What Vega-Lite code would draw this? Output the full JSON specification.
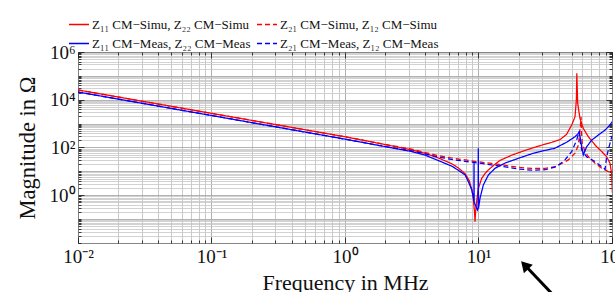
{
  "$schema": "https://vega.github.io/schema/vega-lite/v6.json",
  "width": 534,
  "height": 191,
  "autosize": {"type": "none"},
  "padding": {"left": 78, "top": 52, "right": 3, "bottom": 49},
  "background": "white",
  "config": {"view": {"stroke": "#222", "strokeWidth": 1}, "font": "Liberation Serif"},
  "datasets": {
    "curves": [
      {"s": "Z₁₁ CM−Simu, Z₂₂ CM−Simu", "f": 0.01, "z": 25700},
      {"s": "Z₁₁ CM−Simu, Z₂₂ CM−Simu", "f": 0.1, "z": 2690},
      {"s": "Z₁₁ CM−Simu, Z₂₂ CM−Simu", "f": 1, "z": 282},
      {"s": "Z₁₁ CM−Simu, Z₂₂ CM−Simu", "f": 1.778, "z": 151},
      {"s": "Z₁₁ CM−Simu, Z₂₂ CM−Simu", "f": 3.162, "z": 79.4},
      {"s": "Z₁₁ CM−Simu, Z₂₂ CM−Simu", "f": 3.981, "z": 57.5},
      {"s": "Z₁₁ CM−Simu, Z₂₂ CM−Simu", "f": 5.012, "z": 36.3},
      {"s": "Z₁₁ CM−Simu, Z₂₂ CM−Simu", "f": 6.31, "z": 20.9},
      {"s": "Z₁₁ CM−Simu, Z₂₂ CM−Simu", "f": 7.079, "z": 13.8},
      {"s": "Z₁₁ CM−Simu, Z₂₂ CM−Simu", "f": 7.943, "z": 7.94},
      {"s": "Z₁₁ CM−Simu, Z₂₂ CM−Simu", "f": 8.511, "z": 4.17},
      {"s": "Z₁₁ CM−Simu, Z₂₂ CM−Simu", "f": 8.913, "z": 1.78},
      {"s": "Z₁₁ CM−Simu, Z₂₂ CM−Simu", "f": 9.162, "z": 0.631},
      {"s": "Z₁₁ CM−Simu, Z₂₂ CM−Simu", "f": 9.333, "z": 0.2},
      {"s": "Z₁₁ CM−Simu, Z₂₂ CM−Simu", "f": 9.419, "z": 0.0776},
      {"s": "Z₁₁ CM−Simu, Z₂₂ CM−Simu", "f": 9.506, "z": 0.2},
      {"s": "Z₁₁ CM−Simu, Z₂₂ CM−Simu", "f": 9.683, "z": 0.537},
      {"s": "Z₁₁ CM−Simu, Z₂₂ CM−Simu", "f": 9.977, "z": 1.95},
      {"s": "Z₁₁ CM−Simu, Z₂₂ CM−Simu", "f": 10.57, "z": 5.13},
      {"s": "Z₁₁ CM−Simu, Z₂₂ CM−Simu", "f": 11.22, "z": 8.32},
      {"s": "Z₁₁ CM−Simu, Z₂₂ CM−Simu", "f": 11.86, "z": 11.5},
      {"s": "Z₁₁ CM−Simu, Z₂₂ CM−Simu", "f": 13.3, "z": 20.0},
      {"s": "Z₁₁ CM−Simu, Z₂₂ CM−Simu", "f": 14.49, "z": 28.8},
      {"s": "Z₁₁ CM−Simu, Z₂₂ CM−Simu", "f": 17.78, "z": 47.9},
      {"s": "Z₁₁ CM−Simu, Z₂₂ CM−Simu", "f": 22.39, "z": 75.9},
      {"s": "Z₁₁ CM−Simu, Z₂₂ CM−Simu", "f": 28.18, "z": 115},
      {"s": "Z₁₁ CM−Simu, Z₂₂ CM−Simu", "f": 35.48, "z": 166},
      {"s": "Z₁₁ CM−Simu, Z₂₂ CM−Simu", "f": 40.74, "z": 214},
      {"s": "Z₁₁ CM−Simu, Z₂₂ CM−Simu", "f": 45.71, "z": 355},
      {"s": "Z₁₁ CM−Simu, Z₂₂ CM−Simu", "f": 49.89, "z": 871},
      {"s": "Z₁₁ CM−Simu, Z₂₂ CM−Simu", "f": 52.84, "z": 1950},
      {"s": "Z₁₁ CM−Simu, Z₂₂ CM−Simu", "f": 54.08, "z": 9770},
      {"s": "Z₁₁ CM−Simu, Z₂₂ CM−Simu", "f": 54.51, "z": 129000},
      {"s": "Z₁₁ CM−Simu, Z₂₂ CM−Simu", "f": 55.34, "z": 7080},
      {"s": "Z₁₁ CM−Simu, Z₂₂ CM−Simu", "f": 57.54, "z": 1660},
      {"s": "Z₁₁ CM−Simu, Z₂₂ CM−Simu", "f": 60.95, "z": 631},
      {"s": "Z₁₁ CM−Simu, Z₂₂ CM−Simu", "f": 66.53, "z": 282},
      {"s": "Z₁₁ CM−Simu, Z₂₂ CM−Simu", "f": 74.65, "z": 127},
      {"s": "Z₁₁ CM−Simu, Z₂₂ CM−Simu", "f": 83.75, "z": 67.6},
      {"s": "Z₁₁ CM−Simu, Z₂₂ CM−Simu", "f": 91.2, "z": 40.7},
      {"s": "Z₁₁ CM−Simu, Z₂₂ CM−Simu", "f": 96.61, "z": 21.9},
      {"s": "Z₁₁ CM−Simu, Z₂₂ CM−Simu", "f": 99.31, "z": 8.32},
      {"s": "Z₁₁ CM−Simu, Z₂₂ CM−Simu", "f": 100.7, "z": 1.26},

      {"s": "Z₂₁ CM−Simu, Z₁₂ CM−Simu", "f": 0.01, "z": 25700},
      {"s": "Z₂₁ CM−Simu, Z₁₂ CM−Simu", "f": 0.1, "z": 2690},
      {"s": "Z₂₁ CM−Simu, Z₁₂ CM−Simu", "f": 1, "z": 282},
      {"s": "Z₂₁ CM−Simu, Z₁₂ CM−Simu", "f": 1.778, "z": 151},
      {"s": "Z₂₁ CM−Simu, Z₁₂ CM−Simu", "f": 2.512, "z": 107},
      {"s": "Z₂₁ CM−Simu, Z₁₂ CM−Simu", "f": 3.162, "z": 85.1},
      {"s": "Z₂₁ CM−Simu, Z₁₂ CM−Simu", "f": 3.981, "z": 61.7},
      {"s": "Z₂₁ CM−Simu, Z₁₂ CM−Simu", "f": 5.012, "z": 45.7},
      {"s": "Z₂₁ CM−Simu, Z₁₂ CM−Simu", "f": 6.31, "z": 36.3},
      {"s": "Z₂₁ CM−Simu, Z₁₂ CM−Simu", "f": 7.943, "z": 30.2},
      {"s": "Z₂₁ CM−Simu, Z₁₂ CM−Simu", "f": 10, "z": 25.1},
      {"s": "Z₂₁ CM−Simu, Z₁₂ CM−Simu", "f": 12.59, "z": 21.4},
      {"s": "Z₂₁ CM−Simu, Z₁₂ CM−Simu", "f": 15.85, "z": 17.8},
      {"s": "Z₂₁ CM−Simu, Z₁₂ CM−Simu", "f": 19.95, "z": 14.8},
      {"s": "Z₂₁ CM−Simu, Z₁₂ CM−Simu", "f": 25.12, "z": 13.2},
      {"s": "Z₂₁ CM−Simu, Z₁₂ CM−Simu", "f": 31.62, "z": 13.5},
      {"s": "Z₂₁ CM−Simu, Z₁₂ CM−Simu", "f": 37.41, "z": 15.8},
      {"s": "Z₂₁ CM−Simu, Z₁₂ CM−Simu", "f": 42.66, "z": 22.4},
      {"s": "Z₂₁ CM−Simu, Z₁₂ CM−Simu", "f": 47.1, "z": 30.2},
      {"s": "Z₂₁ CM−Simu, Z₁₂ CM−Simu", "f": 52.84, "z": 57.5},
      {"s": "Z₂₁ CM−Simu, Z₁₂ CM−Simu", "f": 55.98, "z": 126},
      {"s": "Z₂₁ CM−Simu, Z₁₂ CM−Simu", "f": 57.94, "z": 741},
      {"s": "Z₂₁ CM−Simu, Z₁₂ CM−Simu", "f": 58.61, "z": 1950},
      {"s": "Z₂₁ CM−Simu, Z₁₂ CM−Simu", "f": 59.16, "z": 398},
      {"s": "Z₂₁ CM−Simu, Z₁₂ CM−Simu", "f": 59.98, "z": 148},
      {"s": "Z₂₁ CM−Simu, Z₁₂ CM−Simu", "f": 62.81, "z": 67.6},
      {"s": "Z₂₁ CM−Simu, Z₁₂ CM−Simu", "f": 66.53, "z": 40.7},
      {"s": "Z₂₁ CM−Simu, Z₁₂ CM−Simu", "f": 74.65, "z": 21.9},
      {"s": "Z₂₁ CM−Simu, Z₁₂ CM−Simu", "f": 83.75, "z": 13.5},
      {"s": "Z₂₁ CM−Simu, Z₁₂ CM−Simu", "f": 93.97, "z": 9.77},
      {"s": "Z₂₁ CM−Simu, Z₁₂ CM−Simu", "f": 100, "z": 8.91},

      {"s": "Z₁₁ CM−Meas, Z₂₂ CM−Meas", "f": 0.01, "z": 21100},
      {"s": "Z₁₁ CM−Meas, Z₂₂ CM−Meas", "f": 0.1, "z": 2190},
      {"s": "Z₁₁ CM−Meas, Z₂₂ CM−Meas", "f": 1, "z": 224},
      {"s": "Z₁₁ CM−Meas, Z₂₂ CM−Meas", "f": 1.778, "z": 123},
      {"s": "Z₁₁ CM−Meas, Z₂₂ CM−Meas", "f": 3.162, "z": 67.6},
      {"s": "Z₁₁ CM−Meas, Z₂₂ CM−Meas", "f": 3.981, "z": 47.9},
      {"s": "Z₁₁ CM−Meas, Z₂₂ CM−Meas", "f": 5.012, "z": 28.2},
      {"s": "Z₁₁ CM−Meas, Z₂₂ CM−Meas", "f": 6.31, "z": 16.6},
      {"s": "Z₁₁ CM−Meas, Z₂₂ CM−Meas", "f": 7.261, "z": 10.0},
      {"s": "Z₁₁ CM−Meas, Z₂₂ CM−Meas", "f": 7.943, "z": 7.08},
      {"s": "Z₁₁ CM−Meas, Z₂₂ CM−Meas", "f": 8.395, "z": 3.72},
      {"s": "Z₁₁ CM−Meas, Z₂₂ CM−Meas", "f": 8.913, "z": 1.66},
      {"s": "Z₁₁ CM−Meas, Z₂₂ CM−Meas", "f": 9.162, "z": 0.794},
      {"s": "Z₁₁ CM−Meas, Z₂₂ CM−Meas", "f": 9.237, "z": 0.562},
      {"s": "Z₁₁ CM−Meas, Z₂₂ CM−Meas", "f": 9.258, "z": 25.7},
      {"s": "Z₁₁ CM−Meas, Z₂₂ CM−Meas", "f": 9.28, "z": 0.501},
      {"s": "Z₁₁ CM−Meas, Z₂₂ CM−Meas", "f": 9.55, "z": 0.355},
      {"s": "Z₁₁ CM−Meas, Z₂₂ CM−Meas", "f": 9.817, "z": 0.24},
      {"s": "Z₁₁ CM−Meas, Z₂₂ CM−Meas", "f": 9.931, "z": 0.282},
      {"s": "Z₁₁ CM−Meas, Z₂₂ CM−Meas", "f": 9.966, "z": 93.3},
      {"s": "Z₁₁ CM−Meas, Z₂₂ CM−Meas", "f": 10.0, "z": 0.282},
      {"s": "Z₁₁ CM−Meas, Z₂₂ CM−Meas", "f": 10.26, "z": 0.741},
      {"s": "Z₁₁ CM−Meas, Z₂₂ CM−Meas", "f": 10.87, "z": 2.69},
      {"s": "Z₁₁ CM−Meas, Z₂₂ CM−Meas", "f": 11.86, "z": 7.08},
      {"s": "Z₁₁ CM−Meas, Z₂₂ CM−Meas", "f": 13.3, "z": 13.5},
      {"s": "Z₁₁ CM−Meas, Z₂₂ CM−Meas", "f": 15.85, "z": 22.4},
      {"s": "Z₁₁ CM−Meas, Z₂₂ CM−Meas", "f": 19.95, "z": 35.5},
      {"s": "Z₁₁ CM−Meas, Z₂₂ CM−Meas", "f": 25.76, "z": 57.5},
      {"s": "Z₁₁ CM−Meas, Z₂₂ CM−Meas", "f": 31.62, "z": 75.9},
      {"s": "Z₁₁ CM−Meas, Z₂₂ CM−Meas", "f": 37.41, "z": 93.3},
      {"s": "Z₁₁ CM−Meas, Z₂₂ CM−Meas", "f": 45.71, "z": 166},
      {"s": "Z₁₁ CM−Meas, Z₂₂ CM−Meas", "f": 52.84, "z": 282},
      {"s": "Z₁₁ CM−Meas, Z₂₂ CM−Meas", "f": 55.98, "z": 389},
      {"s": "Z₁₁ CM−Meas, Z₂₂ CM−Meas", "f": 56.89, "z": 457},
      {"s": "Z₁₁ CM−Meas, Z₂₂ CM−Meas", "f": 59.29, "z": 107},
      {"s": "Z₁₁ CM−Meas, Z₂₂ CM−Meas", "f": 60.95, "z": 49.0},
      {"s": "Z₁₁ CM−Meas, Z₂₂ CM−Meas", "f": 64.57, "z": 107},
      {"s": "Z₁₁ CM−Meas, Z₂₂ CM−Meas", "f": 70.47, "z": 204},
      {"s": "Z₁₁ CM−Meas, Z₂₂ CM−Meas", "f": 78.89, "z": 331},
      {"s": "Z₁₁ CM−Meas, Z₂₂ CM−Meas", "f": 88.72, "z": 537},
      {"s": "Z₁₁ CM−Meas, Z₂₂ CM−Meas", "f": 96.61, "z": 871},
      {"s": "Z₁₁ CM−Meas, Z₂₂ CM−Meas", "f": 102.3, "z": 1410},

      {"s": "Z₂₁ CM−Meas, Z₁₂ CM−Meas", "f": 0.01, "z": 21100},
      {"s": "Z₂₁ CM−Meas, Z₁₂ CM−Meas", "f": 0.1, "z": 2190},
      {"s": "Z₂₁ CM−Meas, Z₁₂ CM−Meas", "f": 1, "z": 224},
      {"s": "Z₂₁ CM−Meas, Z₁₂ CM−Meas", "f": 1.778, "z": 123},
      {"s": "Z₂₁ CM−Meas, Z₁₂ CM−Meas", "f": 2.512, "z": 89.1},
      {"s": "Z₂₁ CM−Meas, Z₁₂ CM−Meas", "f": 3.162, "z": 72.4},
      {"s": "Z₂₁ CM−Meas, Z₁₂ CM−Meas", "f": 3.981, "z": 53.7},
      {"s": "Z₂₁ CM−Meas, Z₁₂ CM−Meas", "f": 5.012, "z": 39.8},
      {"s": "Z₂₁ CM−Meas, Z₁₂ CM−Meas", "f": 6.31, "z": 31.6},
      {"s": "Z₂₁ CM−Meas, Z₁₂ CM−Meas", "f": 7.943, "z": 26.3},
      {"s": "Z₂₁ CM−Meas, Z₁₂ CM−Meas", "f": 10, "z": 22.4},
      {"s": "Z₂₁ CM−Meas, Z₁₂ CM−Meas", "f": 12.59, "z": 18.6},
      {"s": "Z₂₁ CM−Meas, Z₁₂ CM−Meas", "f": 15.85, "z": 15.5},
      {"s": "Z₂₁ CM−Meas, Z₁₂ CM−Meas", "f": 19.95, "z": 12.6},
      {"s": "Z₂₁ CM−Meas, Z₁₂ CM−Meas", "f": 25.12, "z": 11.2},
      {"s": "Z₂₁ CM−Meas, Z₁₂ CM−Meas", "f": 31.62, "z": 11.7},
      {"s": "Z₂₁ CM−Meas, Z₁₂ CM−Meas", "f": 38.55, "z": 15.8},
      {"s": "Z₂₁ CM−Meas, Z₁₂ CM−Meas", "f": 44.46, "z": 30.2},
      {"s": "Z₂₁ CM−Meas, Z₁₂ CM−Meas", "f": 49.89, "z": 67.6},
      {"s": "Z₂₁ CM−Meas, Z₁₂ CM−Meas", "f": 54.33, "z": 204},
      {"s": "Z₂₁ CM−Meas, Z₁₂ CM−Meas", "f": 56.62, "z": 457},
      {"s": "Z₂₁ CM−Meas, Z₁₂ CM−Meas", "f": 57.54, "z": 200},
      {"s": "Z₂₁ CM−Meas, Z₁₂ CM−Meas", "f": 59.29, "z": 79.4},
      {"s": "Z₂₁ CM−Meas, Z₁₂ CM−Meas", "f": 64.57, "z": 40.7},
      {"s": "Z₂₁ CM−Meas, Z₁₂ CM−Meas", "f": 74.65, "z": 25.7},
      {"s": "Z₂₁ CM−Meas, Z₁₂ CM−Meas", "f": 83.75, "z": 15.8},
      {"s": "Z₂₁ CM−Meas, Z₁₂ CM−Meas", "f": 88.72, "z": 12.3},
      {"s": "Z₂₁ CM−Meas, Z₁₂ CM−Meas", "f": 91.2, "z": 40.7},
      {"s": "Z₂₁ CM−Meas, Z₁₂ CM−Meas", "f": 95.06, "z": 107},
      {"s": "Z₂₁ CM−Meas, Z₁₂ CM−Meas", "f": 99.54, "z": 282},
      {"s": "Z₂₁ CM−Meas, Z₁₂ CM−Meas", "f": 102.3, "z": 355}
    ],
    "arrow": [
      {"f": 22.2, "z": 0.00119, "f2": 38.1, "z2": 0.0000497}
    ]
  },
  "layer": [
    {
      "data": {"name": "curves"},
      "mark": {"type": "line", "clip": true, "strokeWidth": 1.25},
      "encoding": {
        "x": {
          "field": "f", "type": "quantitative",
          "scale": {"type": "log", "domain": [0.01, 100], "nice": false},
          "axis": {
            "orient": "bottom",
            "values": [0.01,0.02,0.03,0.04,0.05,0.06,0.07,0.08,0.09,0.1,0.2,0.3,0.4,0.5,0.6,0.7,0.8,0.9,1,2,3,4,5,6,7,8,9,10,20,30,40,50,60,70,80,90,100],
            "labelExpr": "datum.value == 0.01 ? '10⁻²' : datum.value == 0.1 ? '10⁻¹' : datum.value == 1 ? '10⁰' : datum.value == 10 ? '10¹' : datum.value == 100 ? '10²' : ''",
            "labelFont": "Liberation Serif", "labelFontSize": 19, "labelColor": "#111",
            "labelPadding": 10, "labelOverlap": false, "labelFlush": false, "labelBound": false,
            "domain": false,
            "ticks": true,
            "tickSize": {"condition": {"test": "indexof([0.01,0.1,1,10,100], datum.value) >= 0", "value": -6}, "value": -3},
            "tickColor": "#111", "tickWidth": 0.8,
            "grid": true,
            "gridColor": {"condition": {"test": "indexof([0.01,0.1,1,10,100], datum.value) >= 0", "value": "#9a9a9a"}, "value": "#bdbdbd"},
            "gridWidth": 0.8,
            "title": "Frequency in MHz", "titleFont": "Liberation Serif", "titleFontSize": 22,
            "titleFontWeight": "normal", "titleColor": "#111", "titlePadding": 3
          }
        },
        "y": {
          "field": "z", "type": "quantitative",
          "scale": {"type": "log", "domain": [0.01, 1000000], "nice": false},
          "axis": {
            "orient": "left",
            "values": [0.01,0.02,0.03,0.04,0.05,0.06,0.07,0.08,0.09,0.1,0.2,0.3,0.4,0.5,0.6,0.7,0.8,0.9,1,2,3,4,5,6,7,8,9,10,20,30,40,50,60,70,80,90,100,200,300,400,500,600,700,800,900,1000,2000,3000,4000,5000,6000,7000,8000,9000,10000,20000,30000,40000,50000,60000,70000,80000,90000,100000,200000,300000,400000,500000,600000,700000,800000,900000,1000000],
            "labelExpr": "datum.value == 1 ? '10⁰' : datum.value == 100 ? '10²' : datum.value == 10000 ? '10⁴' : datum.value == 1000000 ? '10⁶' : ''",
            "labelFont": "Liberation Serif", "labelFontSize": 19, "labelColor": "#111",
            "labelPadding": 9, "labelOverlap": false, "labelFlush": false, "labelBound": false,
            "domain": false,
            "ticks": true,
            "tickSize": {"condition": {"test": "indexof([1,100,10000,1000000], datum.value) >= 0", "value": -6}, "value": -3},
            "tickColor": "#111", "tickWidth": 0.8,
            "grid": true,
            "gridColor": {"condition": {"test": "indexof([0.01,0.1,1,10,100,1000,10000,100000,1000000], datum.value) >= 0", "value": "#a0a0a0"}, "value": "#c6c6c6"},
            "gridWidth": 0.8,
            "title": "Magnitude in Ω", "titleFont": "Liberation Serif", "titleFontSize": 22.5,
            "titleFontWeight": "normal", "titleColor": "#111", "titlePadding": 10
          }
        },
        "color": {
          "field": "s", "type": "nominal",
          "scale": {
            "domain": ["Z₁₁ CM−Simu, Z₂₂ CM−Simu", "Z₁₁ CM−Meas, Z₂₂ CM−Meas", "Z₂₁ CM−Simu, Z₁₂ CM−Simu", "Z₂₁ CM−Meas, Z₁₂ CM−Meas"],
            "range": ["#ff0000", "#0000ff", "#ff0000", "#0000ff"]
          },
          "legend": {
            "title": null, "orient": "none", "legendX": -10, "legendY": -37, "columns": 2,
            "symbolType": "stroke", "symbolSize": 400, "symbolStrokeWidth": 1.3,
            "labelFont": "Liberation Serif", "labelFontSize": 13, "labelColor": "#111",
            "labelOffset": 2, "columnPadding": 5, "rowPadding": 0, "clipHeight": 19, "labelLimit": 400
          }
        },
        "strokeDash": {
          "field": "s", "type": "nominal",
          "scale": {
            "domain": ["Z₁₁ CM−Simu, Z₂₂ CM−Simu", "Z₁₁ CM−Meas, Z₂₂ CM−Meas", "Z₂₁ CM−Simu, Z₁₂ CM−Simu", "Z₂₁ CM−Meas, Z₁₂ CM−Meas"],
            "range": [[1, 0], [1, 0], [5, 3], [5, 3]]
          },
          "legend": {
            "title": null, "orient": "none", "legendX": -10, "legendY": -37, "columns": 2,
            "symbolType": "stroke", "symbolSize": 400, "symbolStrokeWidth": 1.3,
            "labelFont": "Liberation Serif", "labelFontSize": 13, "labelColor": "#111",
            "labelOffset": 2, "columnPadding": 5, "rowPadding": 0, "clipHeight": 19, "labelLimit": 400
          }
        }
      }
    },
    {
      "data": {"name": "arrow"},
      "mark": {"type": "rule", "strokeWidth": 3, "color": "#000", "clip": false},
      "encoding": {
        "x": {
          "field": "f", "type": "quantitative",
          "scale": {"type": "log", "domain": [0.01, 100], "nice": false},
          "axis": {
            "orient": "top", "title": null, "labels": false, "domain": false, "grid": false,
            "values": [0.01,0.02,0.03,0.04,0.05,0.06,0.07,0.08,0.09,0.1,0.2,0.3,0.4,0.5,0.6,0.7,0.8,0.9,1,2,3,4,5,6,7,8,9,10,20,30,40,50,60,70,80,90,100],
            "tickSize": {"condition": {"test": "indexof([0.01,0.1,1,10,100], datum.value) >= 0", "value": -6}, "value": -3},
            "tickColor": "#111", "tickWidth": 0.8
          }
        },
        "y": {
          "field": "z", "type": "quantitative",
          "scale": {"type": "log", "domain": [0.01, 1000000], "nice": false},
          "axis": {
            "orient": "right", "title": null, "labels": false, "domain": false, "grid": false,
            "values": [0.01,0.02,0.03,0.04,0.05,0.06,0.07,0.08,0.09,0.1,0.2,0.3,0.4,0.5,0.6,0.7,0.8,0.9,1,2,3,4,5,6,7,8,9,10,20,30,40,50,60,70,80,90,100,200,300,400,500,600,700,800,900,1000,2000,3000,4000,5000,6000,7000,8000,9000,10000,20000,30000,40000,50000,60000,70000,80000,90000,100000,200000,300000,400000,500000,600000,700000,800000,900000,1000000],
            "tickSize": {"condition": {"test": "indexof([1,100,10000,1000000], datum.value) >= 0", "value": -6}, "value": -3},
            "tickColor": "#111", "tickWidth": 0.8
          }
        },
        "x2": {"field": "f2"},
        "y2": {"field": "z2"}
      }
    },
    {
      "data": {"name": "arrow"},
      "mark": {"type": "point", "shape": "triangle-up", "filled": true, "color": "#000", "opacity": 1, "size": 150, "angle": 317, "clip": false},
      "encoding": {
        "x": {"field": "f", "type": "quantitative", "scale": {"type": "log", "domain": [0.01, 100], "nice": false}, "axis": null},
        "y": {"field": "z", "type": "quantitative", "scale": {"type": "log", "domain": [0.01, 1000000], "nice": false}, "axis": null}
      }
    }
  ],
  "resolve": {"axis": {"x": "independent", "y": "independent"}}
}
